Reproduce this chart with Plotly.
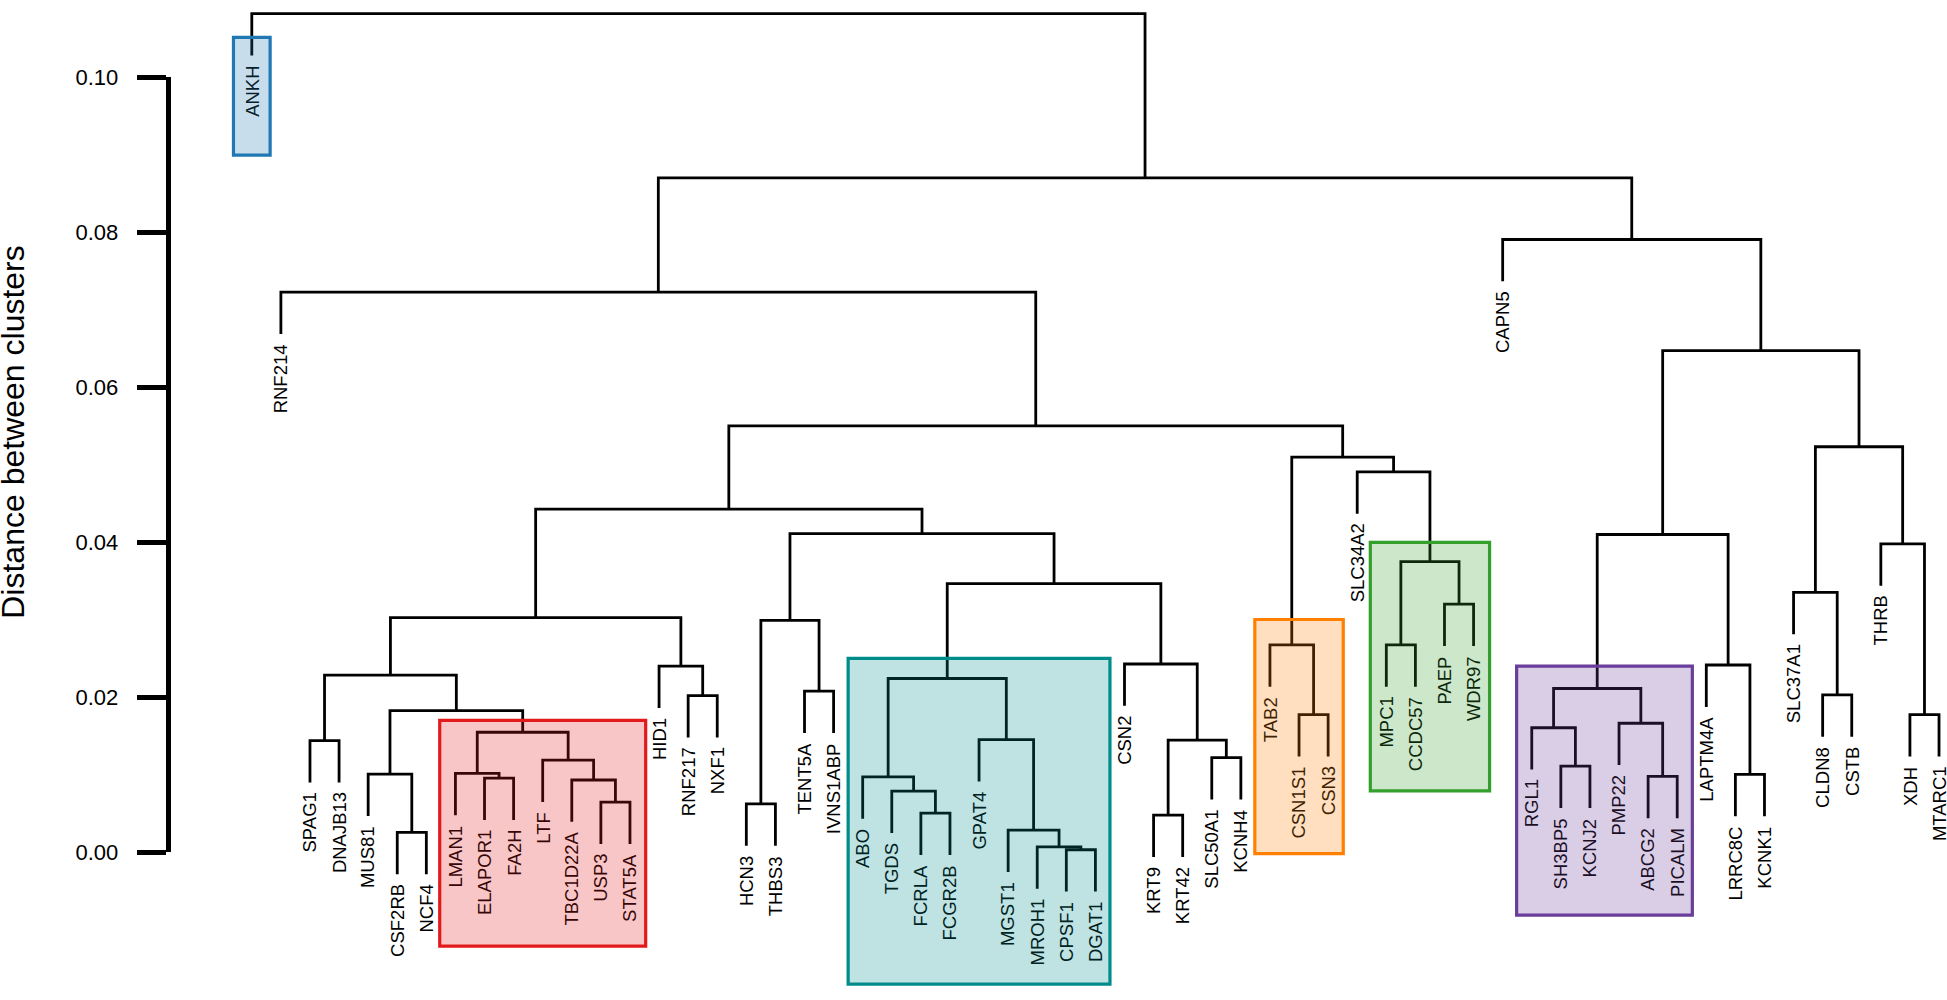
import plotly.graph_objects as go

# ---------------- data ----------------
LEAVES = [
    "ANKH", "RNF214", "SPAG1", "DNAJB13", "MUS81", "CSF2RB", "NCF4",
    "LMAN1", "ELAPOR1", "FA2H", "LTF", "TBC1D22A", "USP3", "STAT5A",
    "HID1", "RNF217", "NXF1", "HCN3", "THBS3", "TENT5A", "IVNS1ABP",
    "ABO", "TGDS", "FCRLA", "FCGR2B", "GPAT4", "MGST1", "MROH1", "CPSF1",
    "DGAT1", "CSN2", "KRT9", "KRT42", "SLC50A1", "KCNH4", "TAB2", "CSN1S1",
    "CSN3", "SLC34A2", "MPC1", "CCDC57", "PAEP", "WDR97", "CAPN5", "RGL1",
    "SH3BP5", "KCNJ2", "PMP22", "ABCG2", "PICALM", "LAPTM4A", "LRRC8C",
    "KCNK1", "SLC37A1", "CLDN8", "CSTB", "THRB", "XDH", "MTARC1",
]

# merge table (like hclust$merge): a child is a leaf name or the index of an earlier merge
MERGE_LEFT = [
    "CSF2RB", "MUS81", "SPAG1", "ELAPOR1", "LMAN1", "USP3", "TBC1D22A", "LTF", 4, 1,
    2, "RNF217", "HID1", 10, "HCN3", "TENT5A", 14, "FCRLA", "TGDS", "ABO",
    "CPSF1", "MROH1", "MGST1", "GPAT4", 19, "KRT9", "SLC50A1", 25, "CSN2", 24,
    16, 13, "CSN1S1", "TAB2", "MPC1", "PAEP", 34, "SLC34A2", 33, 31,
    "RNF214", "SH3BP5", "RGL1", "ABCG2", "PMP22", 42, "LRRC8C", "LAPTM4A", 45, "CLDN8",
    "SLC37A1", "XDH", "THRB", 50, 48, "CAPN5", 40, "ANKH",
]
MERGE_RIGHT = [
    "NCF4", 0, "DNAJB13", "FA2H", 3, "STAT5A", 5, 6, 7, 8,
    9, "NXF1", 11, 12, "THBS3", "IVNS1ABP", 15, "FCGR2B", 17, 18,
    "DGAT1", 20, 21, 22, 23, "KRT42", "KCNH4", 26, 27, 28,
    29, 30, "CSN3", 32, "CCDC57", "WDR97", 35, 36, 37, 38,
    39, "KCNJ2", 41, "PICALM", 43, 44, "KCNK1", 46, 47, "CSTB",
    49, "MTARC1", 51, 52, 53, 54, 55, 56,
]
MERGE_HEIGHT = [
    0.00260, 0.01011, 0.01442, 0.00958, 0.01021, 0.00650, 0.00935, 0.01190, 0.01551, 0.01830,
    0.02288, 0.02023, 0.02403, 0.03029, 0.00626, 0.02080, 0.02995, 0.00507, 0.00790, 0.00974,
    0.00035, 0.00072, 0.00289, 0.01455, 0.02244, 0.00482, 0.01224, 0.01450, 0.02431, 0.03467,
    0.04112, 0.04428, 0.01777, 0.02678, 0.02678, 0.03203, 0.03751, 0.04911, 0.05099, 0.05503,
    0.07229, 0.01113, 0.01609, 0.00982, 0.01667, 0.02115, 0.01008, 0.02418, 0.04102, 0.02033,
    0.03356, 0.01777, 0.03982, 0.05234, 0.06474, 0.07908, 0.08704, 0.10821,
]

Y_TICKS = [0.00, 0.02, 0.04, 0.06, 0.08, 0.10]
Y_TICK_LABELS = ["0.00", "0.02", "0.04", "0.06", "0.08", "0.10"]
Y_TITLE = "Distance between clusters"

# highlighted clusters: first/last leaf and vertical extent (distance units)
CLUSTER_FIRST = ["ANKH", "LMAN1", "ABO", "TAB2", "MPC1", "RGL1"]
CLUSTER_LAST = ["ANKH", "STAT5A", "DGAT1", "CSN3", "WDR97", "PICALM"]
CLUSTER_TOP = [0.10516, 0.01705, 0.02504, 0.03005, 0.04001, 0.02403]
CLUSTER_BOTTOM = [0.08997, -0.01208, -0.01698, -0.00014, 0.00795, -0.00808]

# ---------------- style ----------------
CLUSTER_COLOR = ["#1f78b4", "#e31a1c", "#008b8b", "#ff7f00", "#33a02c", "#6a3d9a"]
CLUSTER_PAD = [0.63, 0.54, 0.50, 0.52, 0.55, 0.52]
FILL_ALPHA = 0.25
HANG = 0.0054
FONT = "Liberation Sans, Arial, Helvetica, sans-serif"
W, H = 1947, 1000


def hex_rgb(h):
    h = h.lstrip("#")
    return tuple(int(h[i:i + 2], 16) for i in (0, 2, 4))


# ---------------- build dendrogram ----------------
pos = {name: i for i, name in enumerate(LEAVES)}
node_x, node_h = [], []
leaf_bottom = {}
xs, ys = [], []


def child(c, h):
    if isinstance(c, str):
        leaf_bottom[c] = h - HANG
        return pos[c], h - HANG
    return node_x[c], node_h[c]


for a, b, h in zip(MERGE_LEFT, MERGE_RIGHT, MERGE_HEIGHT):
    xa, ba = child(a, h)
    xb, bb = child(b, h)
    xs += [xa, xa, xb, xb, None]
    ys += [ba, h, h, bb, None]
    node_x.append((xa + xb) / 2)
    node_h.append(h)

fig = go.Figure()
fig.add_trace(go.Scatter(
    x=xs, y=ys, mode="lines",
    line=dict(color="black", width=2.8),
    hoverinfo="skip", showlegend=False,
))
# dummy trace so that the visible axis subplot exists
fig.add_trace(go.Scatter(x=[None], y=[None], xaxis="x2", yaxis="y2",
                         showlegend=False, hoverinfo="skip"))

# label colour: black seen through the translucent cluster fill
label_color = {}
for first, last, col in zip(CLUSTER_FIRST, CLUSTER_LAST, CLUSTER_COLOR):
    r, g, b = hex_rgb(col)
    tint = "rgb(%d,%d,%d)" % (r * FILL_ALPHA, g * FILL_ALPHA, b * FILL_ALPHA)
    for k in range(pos[first], pos[last] + 1):
        label_color[LEAVES[k]] = tint

annotations = []
for name in LEAVES:
    annotations.append(dict(
        x=pos[name], y=leaf_bottom[name], xref="x", yref="y",
        text=name, textangle=-90, showarrow=False,
        xanchor="center", yanchor="top", yshift=-8,
        font=dict(family=FONT, size=18.5, color=label_color.get(name, "black")),
    ))
annotations.append(dict(
    x=13 / W, y=1 - 430.5 / H, xref="paper", yref="paper",
    text=Y_TITLE, textangle=-90, showarrow=False,
    xanchor="center", yanchor="middle",
    font=dict(family=FONT, size=32, color="black"),
))

shapes = []
for first, last, top, bot, col, pad in zip(CLUSTER_FIRST, CLUSTER_LAST, CLUSTER_TOP,
                                           CLUSTER_BOTTOM, CLUSTER_COLOR, CLUSTER_PAD):
    r, g, b = hex_rgb(col)
    shapes.append(dict(
        type="rect", xref="x", yref="y", layer="above",
        x0=pos[first] - pad, x1=pos[last] + pad, y0=bot, y1=top,
        line=dict(color=col, width=3.2),
        fillcolor="rgba(%d,%d,%d,%.2f)" % (r, g, b, FILL_ALPHA),
    ))

# pixel geometry of the reference
x0_px, dx_px = 251.8, 29.09          # leaf 0 position and leaf spacing
y0_px, dy_px = 862.0, 7950.0         # distance 0 position and px per unit
x_range = [-x0_px / dx_px, (W - x0_px) / dx_px]
y_range = [-(H - y0_px) / dy_px, y0_px / dy_px]
axis_px = 170.5

fig.update_layout(
    width=W, height=H,
    margin=dict(l=0, r=0, t=0, b=0),
    paper_bgcolor="white", plot_bgcolor="rgba(0,0,0,0)",
    showlegend=False,
    xaxis=dict(domain=[0, 1], range=x_range, visible=False, fixedrange=True),
    yaxis=dict(domain=[0, 1], range=y_range, visible=False, fixedrange=True),
    xaxis2=dict(domain=[axis_px / W, axis_px / W + 0.0005], anchor="y2",
                visible=False, fixedrange=True),
    yaxis2=dict(
        domain=[1 - y0_px / H, 1 - (y0_px - 0.1 * dy_px) / H],
        range=[0, 0.1], anchor="x2", side="left",
        showline=True, linewidth=4.5, linecolor="black",
        ticks="outside", ticklen=29, tickwidth=4.5, tickcolor="black",
        tickvals=Y_TICKS, ticktext=Y_TICK_LABELS,
        tickfont=dict(family=FONT, size=22, color="black"),
        ticklabelstandoff=14,
        showgrid=False, zeroline=False, fixedrange=True,
    ),
    annotations=annotations,
    shapes=shapes,
)

fig.write_html("out.html", config={"displayModeBar": False},
               post_script="document.body.style.margin='0px';")
